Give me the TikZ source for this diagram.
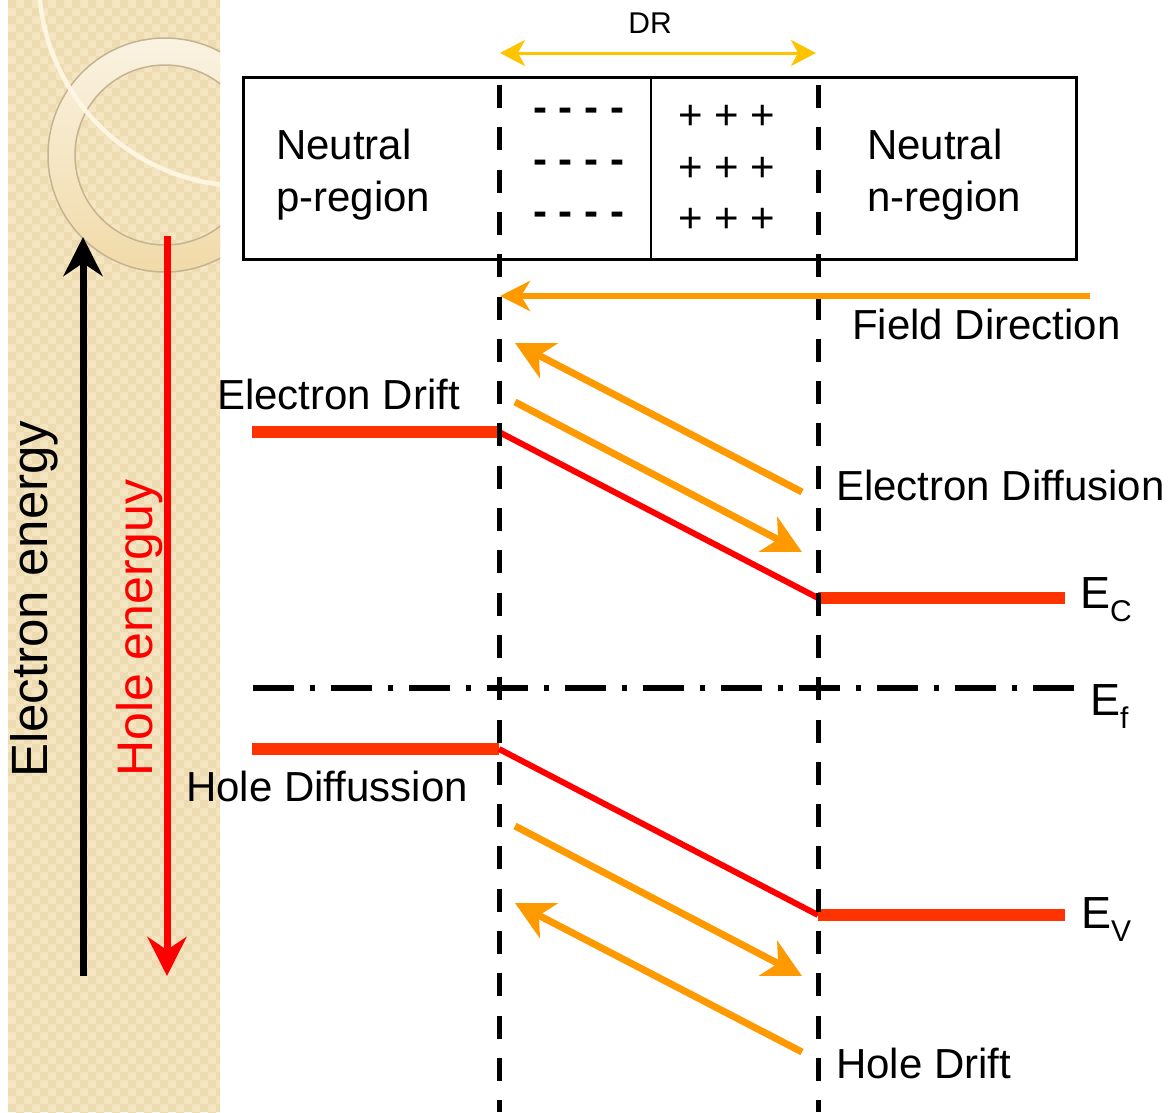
\documentclass[tikz,border=0pt]{standalone}
\usepackage{fontspec}
\setmainfont{Liberation Sans}
\usetikzlibrary{arrows.meta}
\definecolor{stripc}{RGB}{245,229,192}
\definecolor{stripd}{RGB}{237,219,178}
\definecolor{orng}{RGB}{255,153,0}
\definecolor{goldc}{RGB}{255,196,0}
\definecolor{bandc}{RGB}{255,51,0}
\definecolor{ringedge}{RGB}{196,180,146}
\definecolor{ringlight}{RGB}{250,243,226}
\definecolor{ringdark}{RGB}{241,218,168}
\definecolor{arcc}{RGB}{255,248,230}
\begin{document}
\begin{tikzpicture}[x=1pt,y=-1pt,
  lbl/.style={font=\fontsize{42}{50}\selectfont, inner sep=0pt, anchor=base west},
  elbl/.style={font=\fontsize{45}{50}\selectfont, inner sep=0pt, anchor=base west},
  vlbl/.style={font=\fontsize{51}{60}\selectfont, inner sep=0pt, anchor=base west, rotate=90},
  orarrow/.style={draw=orng, line width=7pt, -{Stealth[length=38pt,width=39pt,inset=11pt]}},
  fieldarrow/.style={draw=orng, line width=6pt, -{Stealth[length=30pt,width=30pt,inset=9pt]}},
  energyarrow/.style={line width=7pt, -{Stealth[length=39pt,width=39pt,inset=13pt]}},
  band/.style={draw=bandc, line width=12pt},
  slope/.style={draw=red, line width=6pt},
  border/.style={draw=black, line width=5pt, dash pattern=on 23pt off 19.3pt}
]
\useasboundingbox (0,0) rectangle (1173,1112);
\fill[white] (0,0) rectangle (1173,1112);

% decorative strip
\begin{scope}
  \clip (8,0) rectangle (220,1112);
  \fill[stripc] (8,0) rectangle (220,1112);
  \fill[stripd]
    \foreach \i in {0,...,13} {
      \foreach \j in {0,...,69} {
        (8+16*\i,16*\j) rectangle ++(8,8)
        (16+16*\i,8+16*\j) rectangle ++(8,8)
      }
    };
  \shade[even odd rule, top color=ringlight, bottom color=ringdark]
    (165,155) circle[radius=117] (165,155) circle[radius=90];
  \draw[ringedge, line width=1.5pt] (165,155) circle[radius=117];
  \draw[ringedge, line width=1.5pt] (165,155) circle[radius=90];
  \draw[arcc, opacity=0.9, line width=4.5pt] (245,-20) circle[radius=206];
\end{scope}

% box
\node[draw, line width=3pt, minimum width=833pt, minimum height=182pt,
      anchor=north west, inner sep=0pt] (box) at (242,76) {};
\coordinate (dv1) at (651,76);
\coordinate (dv2) at (651,258);
\draw[line width=2pt] (dv1) -- (dv2);

\node[lbl] (pn1) at (276,159) {Neutral};
\node[lbl] (pn2) at (276,211) {p-region};
\node[lbl] (nn1) at (867,159) {Neutral};
\node[lbl] (nn2) at (867,211) {n-region};
\node[lbl, font=\fontsize{42}{50}\selectfont\bfseries] (m1) at (533,121) {- - - -};
\node[lbl, font=\fontsize{42}{50}\selectfont\bfseries] (m2) at (533,173) {- - - -};
\node[lbl, font=\fontsize{42}{50}\selectfont\bfseries] (m3) at (533,225) {- - - -};
\node[lbl] (p1) at (678,129) {+ + +};
\node[lbl] (p2) at (678,181) {+ + +};
\node[lbl] (p3) at (678,232) {+ + +};

% DR arrow
\node[font=\fontsize{30}{32}\selectfont, inner sep=0pt, anchor=base] (dr) at (650,33) {DR};
\coordinate (drL) at (500,53);
\coordinate (drR) at (816,53);
\draw[goldc, line width=3pt, {Stealth[length=25pt,width=26pt,inset=7pt]}-{Stealth[length=25pt,width=26pt,inset=7pt]}] (drL) -- (drR);

% energy bands
\coordinate (ec1) at (252,432);
\coordinate (ec2) at (499,432);
\coordinate (ec3) at (818,598);
\coordinate (ec4) at (1065,598);
\draw[band] (ec1) -- (ec2);
\draw[slope] (ec2) -- (ec3);
\draw[band] (ec3) -- (ec4);
\coordinate (ev1) at (252,749);
\coordinate (ev2) at (499,749);
\coordinate (ev3) at (818,915);
\coordinate (ev4) at (1065,915);
\draw[band] (ev1) -- (ev2);
\draw[slope] (ev2) -- (ev3);
\draw[band] (ev3) -- (ev4);

% Fermi level
\coordinate (ef1) at (253,688);
\coordinate (ef2) at (1076,688);
\draw[line width=6pt, dash pattern=on 41pt off 16pt on 5pt off 16pt] (ef1) -- (ef2);

% depletion region borders
\coordinate (bl1) at (499,85);
\coordinate (bl2) at (499,1112);
\coordinate (br1) at (818,85);
\coordinate (br2) at (818,1112);
\draw[border] (bl1) -- (bl2);
\draw[border] (br1) -- (br2);

% field direction
\coordinate (fT) at (1090,296);
\coordinate (fH) at (500,296);
\draw[fieldarrow] (fT) -- (fH);
\node[lbl] (fdir) at (852,339) {Field Direction};

% carrier arrows
\coordinate (edT) at (802,492);
\coordinate (edH) at (515,343);
\draw[orarrow] (edT) -- (edH);
\coordinate (efT) at (515,402);
\coordinate (efH) at (802,552);
\draw[orarrow] (efT) -- (efH);
\coordinate (hfT) at (515,826);
\coordinate (hfH) at (802,976);
\draw[orarrow] (hfT) -- (hfH);
\coordinate (hdT) at (802,1052);
\coordinate (hdH) at (515,903);
\draw[orarrow] (hdT) -- (hdH);

\node[lbl] (edrift) at (217,409) {Electron Drift};
\node[lbl] (ediff) at (836,500) {Electron Diffusion};
\node[lbl] (hdiff) at (186,801) {Hole Diffussion};
\node[lbl] (hdrift) at (836,1078) {Hole Drift};

% level labels
\node[elbl] (ecl) at (1080,608) {E\raisebox{-13pt}{\fontsize{30}{30}\selectfont C}};
\node[elbl] (efl) at (1090,715) {E\raisebox{-13pt}{\fontsize{30}{30}\selectfont f}};
\node[elbl] (evl) at (1081,928) {E\raisebox{-13pt}{\fontsize{30}{30}\selectfont V}};

% energy axes
\coordinate (eeB) at (83,976);
\coordinate (eeT) at (83,237);
\draw[energyarrow, black] (eeB) -- (eeT);
\coordinate (heT) at (167,236);
\coordinate (heB) at (167,976);
\draw[energyarrow, red] (heT) -- (heB);
\node[vlbl] (een) at (47,778) {Electron energy};
\node[vlbl, text=red, font=\fontsize{50}{60}\selectfont] (hen) at (152,777) {Hole energuy};
\end{tikzpicture}
\end{document}
